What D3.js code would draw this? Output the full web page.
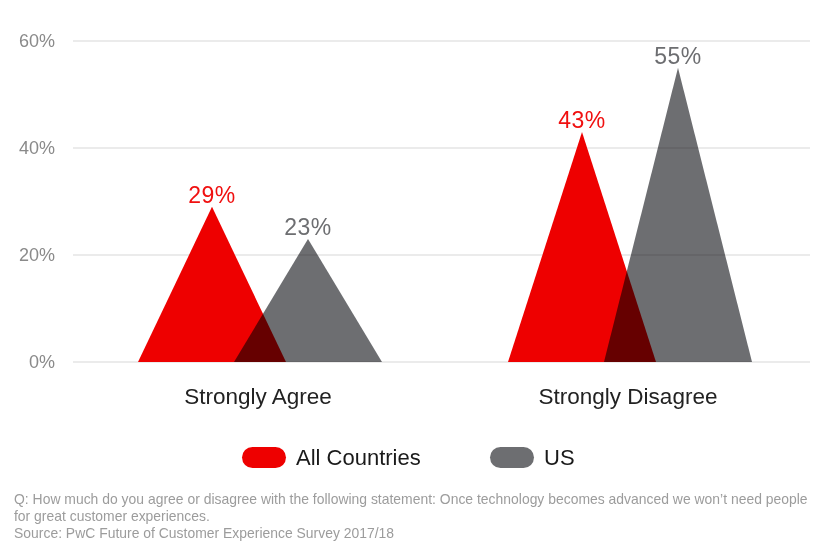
<!DOCTYPE html>
<html>
<head>
<meta charset="utf-8">
<script src="https://cdn.jsdelivr.net/npm/d3@7"></script>
<style>
  html, body { margin: 0; padding: 0; background: #fff; }
  svg { display: block; font-family: "Liberation Sans", Arial, Helvetica, sans-serif; }
</style>
</head>
<body>
<svg id="chart" width="822" height="549"></svg>
<script>
const categories = ["Strongly Agree", "Strongly Disagree"];
const seriesNames = ["All Countries", "US"];
const allCountries = [29, 43];
const us = [23, 55];
const yTicks = [0, 20, 40, 60];
const footerLines = [
  "Q: How much do you agree or disagree with the following statement: Once technology becomes advanced we won\u2019t need people",
  "for great customer experiences.",
  "Source: PwC Future of Customer Experience Survey 2017/18"
];

const colors = { "All Countries": "#ee0000", "US": "#6d6e71" };
const labelColors = { "All Countries": "#f01010", "US": "#6d6e71" };

const svg = d3.select("#chart");

const y = d3.scaleLinear().domain([0, 60]).range([362, 41]);
const x = d3.scaleBand().domain(categories).range([75, 815]).padding(0);
const xs = d3.scaleBand().domain(seriesNames)
  .range([x.bandwidth() / 2 - 96, x.bandwidth() / 2 + 96]).padding(0);
const halfW = 74;

// gridlines
const grid = svg.append("g");
grid.selectAll("line").data(yTicks).join("line")
  .attr("x1", 73).attr("x2", 810)
  .attr("y1", d => y(d)).attr("y2", d => y(d))
  .attr("stroke", "#e4e4e4").attr("stroke-width", 1.6);

// y axis labels
const yAxis = d3.axisLeft(y).tickValues(yTicks).tickFormat(d => d + "%").tickSize(0).tickPadding(0);
const ya = svg.append("g").attr("transform", "translate(55,0)").call(yAxis);
ya.select(".domain").remove();
ya.selectAll("text").attr("font-size", 18).attr("fill", "#8a8a8a")
  .attr("font-family", "'Liberation Sans', Arial, sans-serif");

// data rows
const rows = [];
categories.forEach((c, i) => {
  rows.push({ cat: c, series: "All Countries", value: allCountries[i] });
  rows.push({ cat: c, series: "US", value: us[i] });
});

const marks = svg.append("g");
marks.selectAll("path").data(rows).join("path")
  .attr("d", d => {
    const cx = x(d.cat) + xs(d.series) + xs.bandwidth() / 2;
    return `M${cx - halfW},${y(0)}L${cx},${y(d.value)}L${cx + halfW},${y(0)}Z`;
  })
  .attr("fill", d => colors[d.series])
  .style("mix-blend-mode", d => d.series === "US" ? "multiply" : "normal");

// value labels
svg.append("g").selectAll("text").data(rows).join("text")
  .attr("x", d => x(d.cat) + xs(d.series) + xs.bandwidth() / 2)
  .attr("y", d => y(d.value) - 4)
  .attr("text-anchor", "middle")
  .attr("font-size", 23)
  .attr("letter-spacing", 0.5)
  .attr("fill", d => labelColors[d.series])
  .text(d => d.value + "%");

// category labels
svg.append("g").selectAll("text").data(categories).join("text")
  .attr("x", d => x(d) + x.bandwidth() / 2 - 2)
  .attr("y", 404)
  .attr("text-anchor", "middle")
  .attr("font-size", 22.5)
  .attr("fill", "#222")
  .text(d => d);

// legend
const legendX = [242, 490];
const leg = svg.append("g").selectAll("g").data(seriesNames).join("g")
  .attr("transform", (d, i) => `translate(${legendX[i]},447)`);
leg.append("rect").attr("width", 44).attr("height", 21).attr("rx", 10.5)
  .attr("fill", d => colors[d]);
leg.append("text").attr("x", 54).attr("y", 17.5)
  .attr("font-size", 22).attr("fill", "#1a1a1a").text(d => d);

// footer
const foot = svg.append("g");
const ft = foot.selectAll("text").data(footerLines).join("text")
  .attr("x", 0)
  .attr("y", (d, i) => 504 + i * 17)
  .attr("font-size", 13.8)
  .attr("fill", "#9c9c9c")
  .text(d => d);
const w0 = ft.node().getComputedTextLength();
foot.attr("transform", `translate(14,0) scale(${794 / w0},1)`);
</script>
</body>
</html>
